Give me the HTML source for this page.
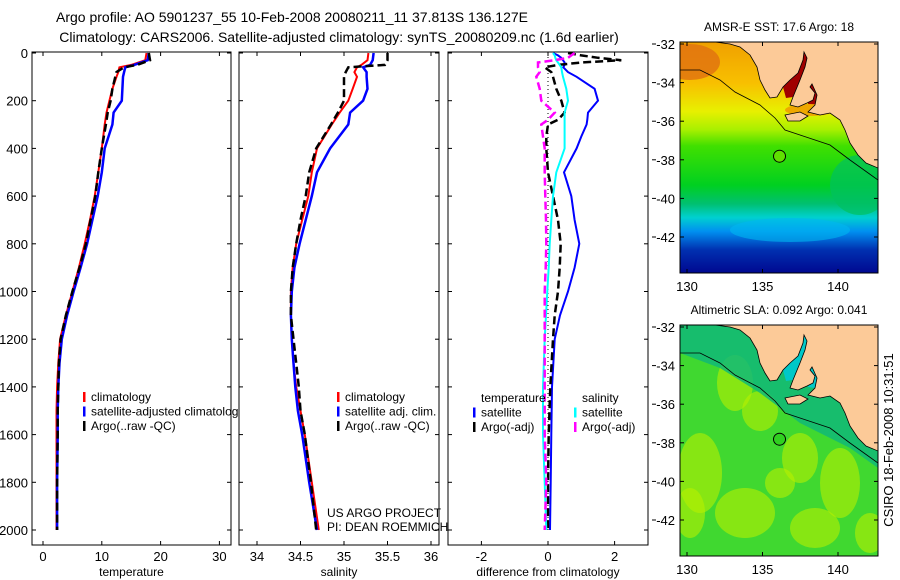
<!DOCTYPE html>
<html><head><meta charset="utf-8"><style>
html,body{margin:0;padding:0;background:#fff;}
svg{display:block;font-family:"Liberation Sans",sans-serif;}
</style></head><body>
<svg id="fig" width="900" height="580" viewBox="0 0 900 580">
<defs>
<clipPath id="c1"><rect x="32" y="52" width="199" height="493"/></clipPath>
<clipPath id="c2"><rect x="239" y="52" width="200" height="493"/></clipPath>
<clipPath id="c3"><rect x="448" y="52" width="200" height="493"/></clipPath>
<clipPath id="cl1"><rect x="0" y="0" width="238" height="580"/></clipPath>
<clipPath id="cm"><rect x="680" y="42" width="198" height="231"/></clipPath>
<linearGradient id="sstg" x1="0" y1="0" x2="0" y2="1">
<stop offset="0" stop-color="#f0a000"/><stop offset="0.18" stop-color="#f8c000"/><stop offset="0.3" stop-color="#e8f000"/>
<stop offset="0.38" stop-color="#a8f000"/><stop offset="0.45" stop-color="#40e000"/><stop offset="0.62" stop-color="#00d020"/>
<stop offset="0.7" stop-color="#00c070"/><stop offset="0.76" stop-color="#00d0d0"/><stop offset="0.82" stop-color="#0090f0"/>
<stop offset="0.9" stop-color="#0030b0"/><stop offset="1" stop-color="#000890"/></linearGradient>
</defs>
<g id="titles">
<text x="292" y="22" font-size="14" text-anchor="middle">Argo profile: AO 5901237_55 10-Feb-2008 20080211_11 37.813S 136.127E</text>
<text x="339" y="42" font-size="14" text-anchor="middle">Climatology: CARS2006. Satellite-adjusted climatology: synTS_20080209.nc (1.6d earlier)</text>
</g>
<g id="panels"></g>
<g id="maps"></g>
<text transform="translate(893,440) rotate(-90)" font-size="13" text-anchor="middle">CSIRO 18-Feb-2008 10:31:51</text>
</svg>
<script>
const depthTicks=[0,200,400,600,800,1000,1200,1400,1600,1800,2000];
const tempTicks=[0,10,20,30];
const salTicks=[34,34.5,35,35.5,36];
const diffTicks=[-2,0,2];
const profDepth=[0,30,50,60,80,100,150,200,250,300,400,500,600,700,800,900,1000,1100,1200,1300,1400,1500,1600,1800,2000];
const tempClim=[17.6,17.4,15,13,12.8,12.5,11.8,11.3,10.8,10.5,10,9.4,8.8,8.0,7.1,6.1,5.0,3.9,2.9,2.6,2.4,2.3,2.3,2.3,2.3];
const tempSat=[18,17.8,15.5,14,13.8,13.6,13.5,13.4,12,11.8,10.5,10,9.3,8.4,7.5,6.4,5.2,4.1,3.2,2.8,2.6,2.5,2.5,2.4,2.4];
const tempArgo=[18,18.2,16,13.8,12.5,12.3,11.8,11.5,11,10.7,10,9.4,8.9,8.1,7.3,6.2,5.0,3.9,3.0,2.7,2.6,2.5,2.5,2.4,2.4];
const salClim=[35.28,35.27,35.2,35.15,35.12,35.15,35.1,35.05,34.95,34.86,34.69,34.63,34.59,34.52,34.45,34.41,34.39,34.39,34.4,34.42,34.45,34.5,34.55,34.63,34.71];
const salSat=[35.34,35.33,35.3,35.22,35.26,35.26,35.27,35.22,35.07,35.05,34.84,34.69,34.63,34.56,34.49,34.43,34.4,34.39,34.4,34.42,34.44,34.47,34.52,34.6,34.69];
const salArgo=[35.5,35.5,35.47,35.05,35.02,35.0,35.0,35.0,34.93,34.85,34.68,34.6,34.56,34.5,34.45,34.41,34.39,34.39,34.42,34.45,34.48,34.5,34.55,34.62,34.68];
const diffDepth=[0,10,20,30,40,50,60,80,100,150,200,250,280,300,350,400,500,600,700,800,900,1000,1100,1200,1400,1600,1800,2000];
const tSatDiff=[0.15,0.3,0.4,0.45,0.5,0.5,0.46,0.6,0.86,1.4,1.5,1.2,1.18,1.16,1.0,0.86,0.48,0.7,0.8,0.94,0.8,0.6,0.36,0.2,0.12,0.1,0.08,0.06];
const tArgoDiff=[0.6,1.0,1.5,2.2,1.0,0.3,-0.1,0.1,0.15,0.25,0.4,0.5,0.3,0.0,-0.05,-0.05,0.0,0.15,0.3,0.38,0.35,0.3,0.2,0.15,0.07,0.02,0.0,0.0];
const sSatDiff=[0.15,0.2,0.22,0.25,0.3,0.35,0.4,0.42,0.45,0.55,0.6,0.5,0.5,0.5,0.5,0.5,0.25,0.15,0.1,0.05,0.02,-0.02,-0.06,-0.1,-0.15,-0.15,-0.1,-0.05];
const sArgoDiff=[0.8,0.7,0.6,0.2,-0.3,-0.3,-0.3,-0.25,-0.35,-0.25,-0.2,0.2,0.0,-0.2,-0.15,-0.1,-0.1,-0.08,-0.06,-0.05,-0.07,-0.1,-0.1,-0.1,-0.1,-0.1,-0.05,-0.1];
const latTicks=[-32,-34,-36,-38,-40,-42];
const lonTicks=[130,135,140];
const argoLon=136.127, argoLat=-37.813;

const NS="http://www.w3.org/2000/svg";
function mk(tag,attrs,parent){const e=document.createElementNS(NS,tag);for(const k in attrs)e.setAttribute(k,attrs[k]);parent.appendChild(e);return e;}
const yD=d=>53+d*0.2385;
const panels=document.getElementById('panels');
const P=[
 {x0:32,x1:231,v0:0,px:5.88,o:43,ticks:tempTicks,label:'temperature',clip:'c1',name:'temperature-panel'},
 {x0:239,x1:439,v0:34,px:87,o:257,ticks:salTicks,label:'salinity',clip:'c2',name:'salinity-panel'},
 {x0:448,x1:648,v0:0,px:33.3,o:548,ticks:diffTicks,label:'difference from climatology',clip:'c3',name:'difference-panel'}];
P.forEach((p,i)=>{
 const g=mk('g',{},panels);
 
 
 const xs=v=>p.o+(v-p.v0)*p.px;
 const fr=mk('rect',{x:p.x0,y:52,width:p.x1-p.x0,height:493,fill:'#fff',stroke:'#000','stroke-width':1},g);
 
 
 depthTicks.forEach(d=>{
  mk('line',{x1:p.x0,x2:p.x0+4,y1:yD(d),y2:yD(d),stroke:'#000'},g);
  mk('line',{x1:p.x1-4,x2:p.x1,y1:yD(d),y2:yD(d),stroke:'#000'},g);
  if(i===0){const t=mk('text',{x:28,y:yD(d)+5,'font-size':13,'text-anchor':'end'},g);t.textContent=d;
   
   }
 });
 p.ticks.forEach(v=>{
  mk('line',{x1:xs(v),x2:xs(v),y1:52,y2:56,stroke:'#000'},g);
  mk('line',{x1:xs(v),x2:xs(v),y1:541,y2:545,stroke:'#000'},g);
  const t=mk('text',{x:xs(v),y:561,'font-size':13,'text-anchor':'middle'},g);t.textContent=v;
  
  
 });
 const at=mk('text',{x:(p.x0+p.x1)/2,y:576,'font-size':12,'text-anchor':'middle'},g);at.textContent=p.label;
 
 
 p.g=g;p.xs=xs;
});
function line(p,depths,vals,color,w,dash,name){
 const d=depths.map((dd,k)=>(k?'L':'M')+p.xs(vals[k]).toFixed(1)+','+yD(dd).toFixed(1)).join('');
 const a={d:d,fill:'none',stroke:color,'stroke-width':w,'clip-path':'url(#'+p.clip+')'};
 if(dash)a['stroke-dasharray']=dash;
 const e=mk('path',a,p.g);
 
 
}
line(P[0],profDepth,tempClim,'#f00',2,null,'temp-climatology-line');
line(P[0],profDepth,tempSat,'#00f',2.5,null,'temp-satellite-line');
line(P[0],profDepth,tempArgo,'#000',2.5,'8,4','temp-argo-line');
line(P[1],profDepth,salClim,'#f00',2,null,'sal-climatology-line');
line(P[1],profDepth,salSat,'#00f',2.5,null,'sal-satellite-line');
line(P[1],profDepth,salArgo,'#000',2.5,'8,4','sal-argo-line');
mk('line',{x1:P[2].xs(0),x2:P[2].xs(0),y1:yD(0),y2:yD(2000),stroke:'#000','stroke-dasharray':'1,3'},P[2].g);
line(P[2],diffDepth,tSatDiff,'#00f',2,null,'temp-satellite-diff-line');
line(P[2],diffDepth,tArgoDiff,'#000',2.5,'8,4','temp-argo-diff-line');
line(P[2],diffDepth,sSatDiff,'#0ff',2,null,'sal-satellite-diff-line');
line(P[2],diffDepth,sArgoDiff,'#f0f',2.5,'8,4','sal-argo-diff-line');

function legend(g,x,y,items,clip){
 const lg=mk('g',clip?{'clip-path':'url(#'+clip+')'}:{},g);
 
 
 items.forEach((it,k)=>{
  const yy=y+k*14.5;
  if(it[0])mk('rect',{x:x,y:yy-5,width:2.5,height:10,fill:it[0]},lg);
  const t=mk('text',{x:x+8,y:yy+4,'font-size':12},lg);t.textContent=it[1];
  
  
 });
}
legend(P[0].g,83,397,[['#f00','climatology'],['#00f','satellite-adjusted climatology'],['#000','Argo(..raw -QC)']],'cl1');
legend(P[1].g,337,397,[['#f00','climatology'],['#00f','satellite adj. clim.'],['#000','Argo(..raw -QC)']]);
legend(P[2].g,473,398,[[null,'temperature'],['#00f','satellite'],['#000','Argo(-adj)']]);
legend(P[2].g,574,398,[[null,'salinity'],['#0ff','satellite'],['#f0f','Argo(-adj)']]);
[['US ARGO PROJECT',517],['PI: DEAN ROEMMICH',531]].forEach(s=>{
 const t=mk('text',{x:327,y:s[1],'font-size':12},P[1].g);t.textContent=s[0];
 
 
});

// maps
const maps=document.getElementById('maps');
const lonX=l=>687+(l-130)*15.1;
const latY=l=>44+(-32-l)*19.3;
const land="M715,42 L730,44 L740,47 L750,55 L757,67 L760,80 L765,90 L770,98 L777,97 L783,87 L790,80 L798,73 L803,60 L804,52 L807,58 L805,67 L800,80 L793,97 L790,105 L798,107 L807,103 L813,100 L815,93 L810,87 L812,84 L817,95 L815,105 L808,112 L820,115 L830,113 L840,120 L845,130 L850,143 L858,155 L866,163 L878,168 L878,42 Z";
const gulf="M783,87 L790,80 L798,73 L803,60 L804,52 L807,58 L805,67 L800,80 L793,97 L786,98 Z M810,87 L812,84 L817,95 L815,105 L808,104 Z";
const island="M785,115 L800,112 L808,116 L800,121 L788,121 Z";
const contour="M680,70 L700,70 L720,80 L735,92 L760,105 L775,118 L785,130 L800,135 L830,145 L850,160 L878,180";
function drawMap(dy,title,kind,name){
 const g=mk('g',{transform:'translate(0,'+dy+')'},maps);
 
 
 const inner=mk('g',{'clip-path':'url(#cm)'},g);
 if(kind==='sst'){
  mk('rect',{x:680,y:42,width:198,height:231,fill:'url(#sstg)'},inner);
  mk('ellipse',{cx:690,cy:62,rx:30,ry:18,fill:'#e07010',opacity:0.8},inner);
  mk('ellipse',{cx:790,cy:230,rx:60,ry:12,fill:'#00b8f0',opacity:0.6},inner);
  mk('ellipse',{cx:860,cy:185,rx:30,ry:30,fill:'#00c060',opacity:0.7},inner);
  mk('path',{d:gulf,fill:'#a00000'},inner);
  mk('ellipse',{cx:810,cy:110,rx:25,ry:6,fill:'#f0a000',opacity:0.9},inner);
 } else {
  mk('rect',{x:680,y:42,width:198,height:231,fill:'#40d830'},inner);
  const yel=[[735,100,18,28],[760,128,18,20],[700,190,22,40],[745,230,30,25],[800,175,18,25],[840,200,20,35],[815,245,25,20],[690,230,15,25],[870,250,15,20],[780,200,15,15]];
  yel.forEach(b=>mk('ellipse',{cx:b[0],cy:b[1],rx:b[2],ry:b[3],fill:'#b8f000',opacity:0.6},inner));
  mk('path',{d:"M680,42 L878,42 L878,185 L850,165 L800,140 L760,110 L720,85 L680,70 Z",fill:'#10b878',opacity:0.85},inner);
  mk('path',{d:gulf,fill:'#00c8c8'},inner);
 }
 mk('path',{d:land,fill:'#fcca98',stroke:'#000','stroke-width':0.8},inner);
 mk('path',{d:island,fill:'#fcca98',stroke:'#000','stroke-width':0.8},inner);
 mk('path',{d:contour,fill:'none',stroke:'#000','stroke-width':0.8},inner);
 const c=mk('circle',{cx:lonX(argoLon),cy:latY(argoLat),r:6,fill:kind==='sst'?'#60e000':'#30d020',stroke:'#000'},g);
 
 
 mk('rect',{x:680,y:42,width:198,height:231,fill:'none',stroke:'#000'},g);
 latTicks.forEach(l=>{
  mk('line',{x1:680,x2:684,y1:latY(l),y2:latY(l),stroke:'#000'},g);
  mk('line',{x1:874,x2:878,y1:latY(l),y2:latY(l),stroke:'#000'},g);
  mk('line',{x1:652,x2:656,y1:latY(l),y2:latY(l),stroke:'#000'},g);
  const t=mk('text',{x:675,y:latY(l)+5,'font-size':13,'text-anchor':'end'},g);t.textContent=l;
  
  
 });
 lonTicks.forEach(l=>{
  mk('line',{x1:lonX(l),x2:lonX(l),y1:42,y2:46,stroke:'#000'},g);
  mk('line',{x1:lonX(l),x2:lonX(l),y1:269,y2:273,stroke:'#000'},g);
  const t=mk('text',{x:lonX(l),y:291,'font-size':13,'text-anchor':'middle'},g);t.textContent=l;
  
  
 });
 const tt=mk('text',{x:779,y:31,'font-size':12,'text-anchor':'middle'},g);tt.textContent=title;
 
 
}
drawMap(0,'AMSR-E SST: 17.6 Argo: 18','sst','sst-map');
drawMap(283,'Altimetric SLA: 0.092 Argo: 0.041','sla','sla-map');
</script>
</body></html>
